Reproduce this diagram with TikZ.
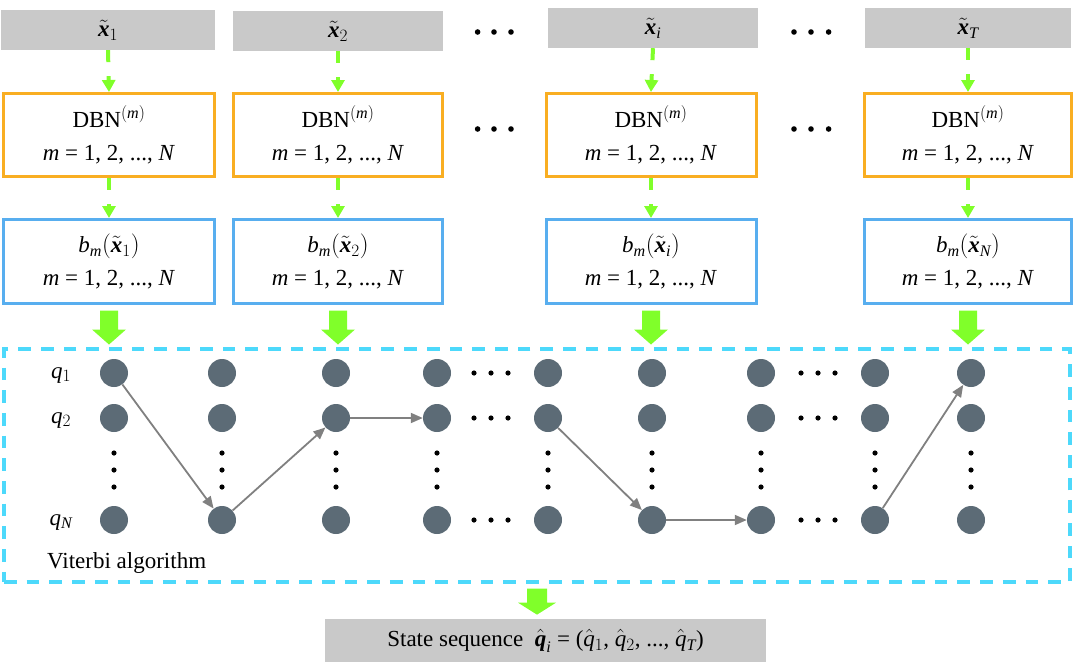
\documentclass[tikz,border=0pt]{standalone}
\usepackage{amsmath}
\usepackage[no-math]{fontspec}
\setmainfont{Liberation Serif}
\DeclareSymbolFont{letters}{TU}{\rmdefault}{m}{it}
\SetSymbolFont{letters}{bold}{TU}{\rmdefault}{b}{it}
\usetikzlibrary{arrows.meta,calc}
\definecolor{boxgray}{HTML}{C9C9C9}
\definecolor{dbnorange}{HTML}{F9AE22}
\definecolor{probblue}{HTML}{58AEEF}
\definecolor{flowgreen}{HTML}{80FF2A}
\definecolor{vitcyan}{HTML}{4DD9FB}
\definecolor{statefill}{HTML}{5C6B76}
\definecolor{arrowgray}{HTML}{808080}
\newcommand\mline{\textit{m} = 1, 2, ..., \textit{N}}
\begin{document}
\begin{tikzpicture}[x=1pt,y=-1pt,
  every node/.style={font=\fontsize{23}{33}\selectfont},
  graybox/.style={fill=boxgray, minimum height=40pt, inner sep=0pt},
  dbnbox/.style={draw=dbnorange, line width=3pt, minimum height=83pt, inner sep=0pt, align=center},
  probbox/.style={draw=probblue, line width=3pt, minimum height=84pt, inner sep=0pt, align=center},
  flow/.style={draw=flowgreen, line width=4pt, dash pattern=on 12pt off 14pt, -{Triangle[width=13pt,length=12pt]}},
  state/.style={circle, fill=statefill, minimum size=28pt, inner sep=0pt},
  trans/.style={draw=arrowgray, line width=1.8pt, -{Triangle[width=10pt,length=12pt]}},
  vitbox/.style={draw=vitcyan, line width=3.3pt, dash pattern=on 12.7pt off 10pt, inner sep=0pt},
  outbox/.style={fill=boxgray, inner sep=0pt},
  bigarrow/.pic={\fill[flowgreen] (-9,0) -- (9,0) -- (9,19) -- (17,19) -- (0,34) -- (-17,19) -- (-9,19) -- cycle;},
  smallarrow/.pic={\fill[flowgreen] (-10,0) -- (10,0) -- (10,14) -- (19,14) -- (0,26) -- (-19,14) -- (-10,14) -- cycle;}
]
\useasboundingbox (0,0) rectangle (1080,664);

% input boxes
\node[graybox, minimum width=214pt] (g1) at (108,30) {$\tilde{\boldsymbol{x}}_1$};
\node[graybox, minimum width=210pt] (g2) at (338,31) {$\tilde{\boldsymbol{x}}_2$};
\node[graybox, minimum width=210pt] (gi) at (653,28) {$\tilde{\boldsymbol{x}}_i$};
\node[graybox, minimum width=206pt] (gT) at (968,28) {$\tilde{\boldsymbol{x}}_T$};

% DBN boxes
\node[dbnbox, minimum width=211pt] (d1) at (109,135) {DBN$^{(m)}$\\\mline};
\node[dbnbox, minimum width=209pt] (d2) at (338,135) {DBN$^{(m)}$\\\mline};
\node[dbnbox, minimum width=210pt] (di) at (651,135) {DBN$^{(m)}$\\\mline};
\node[dbnbox, minimum width=207pt] (dT) at (968,135) {DBN$^{(m)}$\\\mline};

% probability boxes
\node[probbox, minimum width=211pt] (b1) at (109,261.5) {$b_m(\tilde{\boldsymbol{x}}_1)$\\\mline};
\node[probbox, minimum width=209pt] (b2) at (338,261.5) {$b_m(\tilde{\boldsymbol{x}}_2)$\\\mline};
\node[probbox, minimum width=210pt] (bi) at (651,261.5) {$b_m(\tilde{\boldsymbol{x}}_i)$\\\mline};
\node[probbox, minimum width=207pt] (bT) at (968,261.5) {$b_m(\tilde{\boldsymbol{x}}_N)$\\\mline};

% dashed flow arrows
\foreach \c in {1,2,i,T}{
  \draw[flow] (g\c.south) -- (d\c.north);
  \draw[flow] (d\c.south) -- (b\c.north);
}

% ellipsis dots between columns (top rows)
\foreach \x in {477.6,494,511,794,811,828.6}{
  \fill (\x,32) circle[radius=2.8pt];
  \fill (\x,129) circle[radius=2.8pt];
}

% Viterbi frame
\node[vitbox, minimum width=1066pt, minimum height=233pt] (vit) at (537,465.5) {};

% block arrows into frame
\foreach \c in {1,2,i,T}{
  \pic at ($(b\c.south)+(0,5.5)$) {bigarrow};
}

% states
\foreach \c/\x in {1/114,2/222,3/336,4/437,5/548,6/652,7/761,8/875,9/971}{
  \foreach \r/\y in {1/373,2/418,3/520}{
    \node[state] (s\c-\r) at (\x,\y) {};
  }
  \foreach \y in {453,470,487}{
    \fill (\x,\y) circle[radius=2.6pt];
  }
}
\foreach \y in {373,418,520}{
  \foreach \x in {474,491,508,801,818,835}{
    \fill (\x,\y) circle[radius=2.6pt];
  }
}

% state labels
\node[anchor=base] (q1) at (61,378) {$q_1$};
\node[anchor=base] (q2) at (61,423) {$q_2$};
\node[anchor=base] (qN) at (61,525) {$q_N$};
\node[anchor=base west, inner sep=0pt] (vlabel) at (47,568) {Viterbi algorithm};

% best path
\draw[trans] (s1-1) -- (s2-3);
\draw[trans] (s2-3) -- (s3-2);
\draw[trans] (s3-2) -- (s4-2);
\draw[trans] (s5-2) -- (s6-3);
\draw[trans] (s6-3) -- (s7-3);
\draw[trans] (s8-3) -- (s9-1);

% output
\pic at ($(vit.south)+(0,5)$) {smallarrow};
\node[outbox, minimum width=441pt, minimum height=43pt] (out) at (545.5,640.5)
  {State sequence\ \ $\hat{\boldsymbol{q}}_i$ = ($\hat{q}_1$, $\hat{q}_2$, ..., $\hat{q}_T$)};
\end{tikzpicture}
\end{document}
